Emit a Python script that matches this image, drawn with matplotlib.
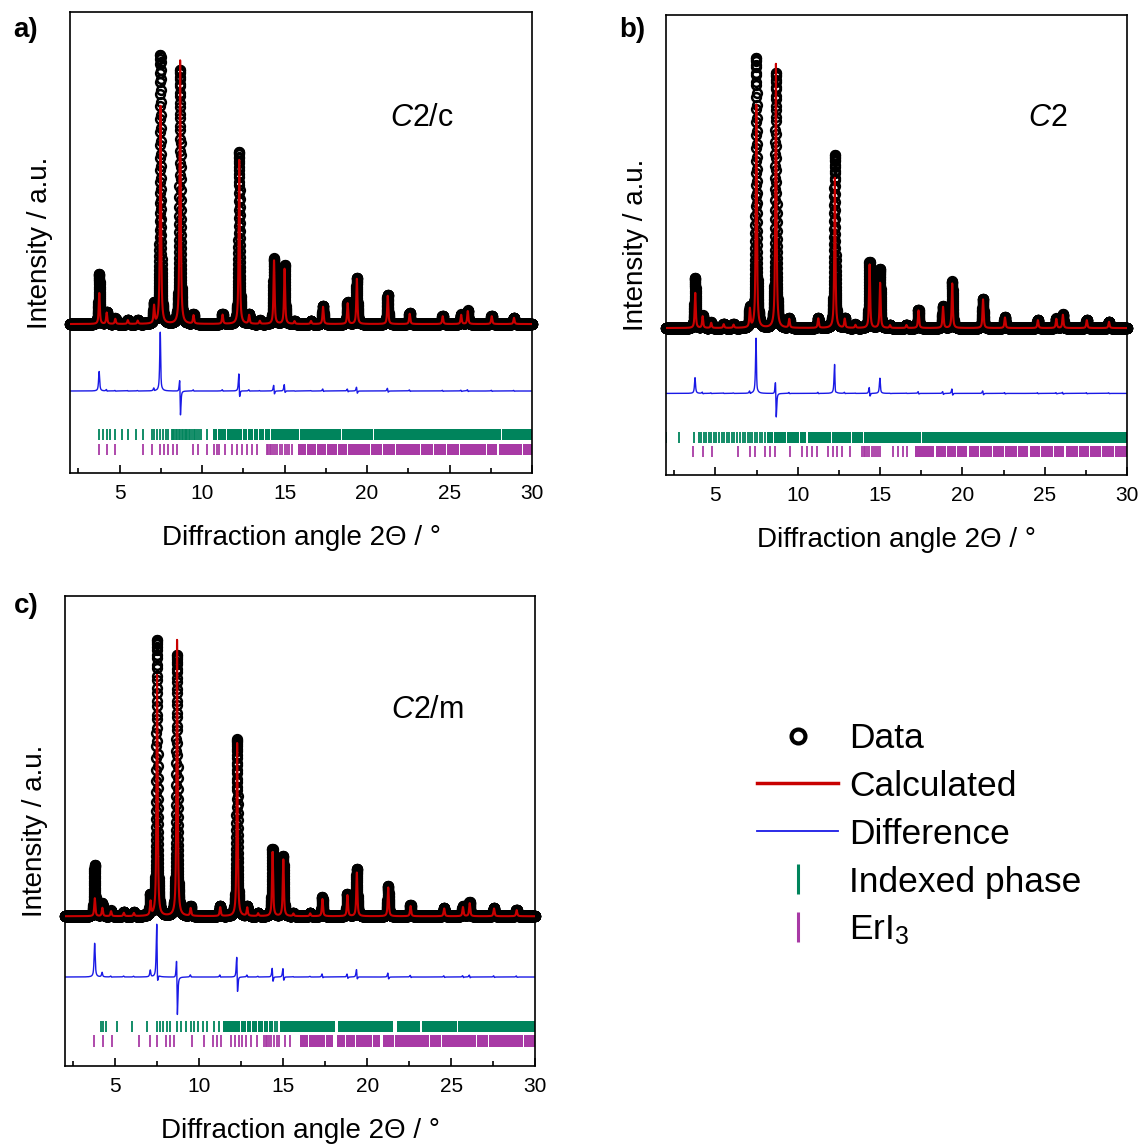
import numpy as np
import matplotlib.pyplot as plt
from matplotlib.lines import Line2D
from matplotlib.ticker import MultipleLocator

plt.rcParams['font.family'] = ['Liberation Sans', 'DejaVu Sans']
plt.rcParams['mathtext.fontset'] = 'custom'
plt.rcParams['mathtext.rm'] = 'Liberation Sans'
plt.rcParams['mathtext.it'] = 'Liberation Sans:italic'

# measured pattern: reflection positions (2theta / deg) and normalised heights
peak_pos = [3.77, 4.22, 4.74, 5.5, 6.1, 7.09, 7.48, 8.67, 9.48, 11.24, 12.25, 12.85, 13.5,
            14.36, 15.0, 15.6, 16.6, 17.33, 18.82, 19.38, 21.25, 22.58, 24.58, 25.7, 26.1,
            27.55, 28.9]
obs_height = [0.185, 0.045, 0.02, 0.015, 0.013, 0.072, 1.0, 0.945, 0.034, 0.037, 0.64, 0.035,
              0.012, 0.243, 0.218, 0.01, 0.012, 0.068, 0.08, 0.172, 0.109, 0.04, 0.03, 0.035,
              0.05, 0.03, 0.024]

# calculated heights for the three space group models
calc_a = [0.115, 0.042, 0.019, 0.014, 0.012, 0.065, 0.81, 0.98, 0.031, 0.034, 0.61, 0.032,
          0.011, 0.236, 0.205, 0.01, 0.011, 0.064, 0.077, 0.168, 0.105, 0.038, 0.029, 0.034,
          0.048, 0.029, 0.023]
calc_b = [0.13, 0.043, 0.019, 0.014, 0.012, 0.068, 0.826, 0.978, 0.032, 0.035, 0.556, 0.033,
          0.011, 0.235, 0.167, 0.01, 0.011, 0.065, 0.078, 0.165, 0.106, 0.039, 0.029, 0.034,
          0.049, 0.029, 0.023]
calc_c = [0.065, 0.03, 0.018, 0.012, 0.011, 0.05, 0.873, 1.0, 0.028, 0.032, 0.627, 0.03,
          0.01, 0.232, 0.205, 0.009, 0.01, 0.062, 0.076, 0.158, 0.104, 0.037, 0.028, 0.033,
          0.047, 0.028, 0.022]
calc_shift = [0.004, 0.004, 0.006]

# reflection markers, single lines and dense bands (start, end)
idx_ticks_a = [3.76, 4.02, 4.22, 4.42, 4.73, 5.13, 5.53, 6.0, 6.44, 6.95, 7.11, 7.25, 7.45,
               7.66, 7.82, 7.96, 8.16, 8.24, 8.33, 8.42, 8.5, 8.6, 8.68, 8.76, 8.85, 8.94,
               9.02, 9.12, 9.2, 9.3, 9.4, 9.5, 9.6, 9.7, 9.82, 9.95, 10.28]
idx_bands_a = [(10.65, 10.9), (10.94, 11.2), (11.24, 11.45), (11.49, 11.8), (11.84, 12.1),
               (12.14, 12.45), (12.49, 12.75), (12.79, 13.1), (13.14, 13.4), (13.44, 13.75),
               (13.79, 14.12), (14.15, 15.9), (15.95, 18.45), (18.49, 20.35), (20.42, 28.12),
               (28.16, 30.0)]
eri_ticks_a = [3.76, 4.22, 4.73, 6.44, 6.95, 7.45, 7.7, 7.96, 8.22, 8.46, 9.47, 9.78, 10.28,
               10.73, 10.89, 11.05, 11.39, 11.8, 12.1, 12.4, 12.71, 13.01, 13.31, 13.92,
               14.02, 14.12, 14.2, 14.3, 14.42, 14.55, 14.7, 14.85, 15.0, 15.15, 15.3, 15.45]
eri_bands_a = [(15.84, 16.3), (16.34, 16.9), (16.94, 17.5), (17.58, 18.2), (18.24, 18.8),
               (18.84, 19.5), (19.54, 20.2), (20.24, 20.9), (20.94, 21.7), (21.74, 22.4),
               (22.44, 23.2), (23.24, 24.0), (24.04, 24.8), (24.84, 25.6), (25.64, 26.4),
               (26.44, 27.2), (27.24, 27.9), (27.98, 28.7), (28.74, 29.4), (29.44, 30.0)]

idx_ticks_b = [2.0, 2.81, 3.72, 4.02, 4.15, 4.3, 4.45, 4.6, 4.75, 4.9, 5.05, 5.2, 5.38, 5.55,
               5.7, 5.85, 6.0, 6.15, 6.32, 6.5, 6.65, 6.8, 6.95, 7.1, 7.25, 7.4, 7.55, 7.7,
               7.85, 8.0]
idx_bands_b = [(8.12, 8.5), (8.54, 8.9), (8.94, 9.3), (9.34, 9.7), (9.74, 10.1), (10.14, 10.5),
               (10.6, 12.02), (12.08, 13.25), (13.3, 13.95), (14.01, 17.5), (17.55, 30.0)]
eri_ticks_b = [3.66, 4.27, 4.77, 6.39, 7.1, 7.41, 8.01, 8.32, 8.62, 9.53, 10.24, 10.55, 10.85,
               11.16, 11.86, 12.13, 12.37, 12.68, 13.18, 13.89, 14.0, 14.1, 14.22, 14.35,
               14.5, 14.62, 14.75, 14.88, 15.0, 15.81, 16.11, 16.42, 16.62]
eri_bands_b = [(17.12, 17.7), (17.74, 18.3), (18.38, 19.0), (19.08, 19.6), (19.68, 20.3),
               (20.38, 21.0), (21.08, 21.8), (21.88, 22.5), (22.58, 23.3), (23.38, 24.0),
               (24.08, 24.7), (24.78, 25.5), (25.58, 26.2), (26.28, 27.0), (27.08, 27.7),
               (27.78, 28.4), (28.48, 29.2), (29.28, 30.0)]

idx_ticks_c = [4.12, 4.28, 4.44, 5.11, 5.97, 6.9, 7.46, 7.66, 7.86, 8.06, 8.25, 8.65, 8.89,
               9.21, 9.49, 9.71, 9.94, 10.2, 10.44, 10.87, 11.19, 14.5, 14.65]
idx_bands_c = [(11.43, 11.75), (11.79, 12.1), (12.14, 12.45), (12.49, 12.8), (12.84, 13.1),
               (13.14, 13.45), (13.49, 13.8), (13.84, 14.1), (14.14, 14.4), (14.8, 18.08),
               (18.28, 21.56), (21.76, 23.15), (23.25, 25.33), (25.43, 30.0)]
eri_ticks_c = [3.75, 4.29, 4.79, 6.43, 7.06, 7.5, 8.0, 8.25, 8.49, 9.58, 10.27, 10.8, 11.03,
               11.27, 11.86, 12.1, 12.34, 12.57, 12.81, 13.11, 13.41, 13.85, 13.95, 14.05,
               14.15, 14.3, 14.45, 14.6, 14.75, 15.1, 15.4]
eri_bands_c = [(15.99, 16.5), (16.54, 17.0), (17.04, 17.5), (17.54, 17.97), (18.18, 18.7),
               (18.74, 19.3), (19.34, 19.8), (19.84, 20.3), (20.34, 20.75), (20.95, 21.6),
               (21.64, 22.3), (22.34, 23.0), (23.04, 23.7), (23.74, 24.4), (24.44, 25.1),
               (25.14, 25.8), (25.84, 26.5), (26.54, 27.2), (27.24, 27.9), (27.94, 28.6),
               (28.64, 29.3), (29.34, 30.0)]

RED = '#c80000'
BLUE = '#1a1ae6'
GREEN = '#00845c'
PURPLE = '#a83aa5'


def profile(x, pos, height, shift=0.0, fwhm=0.08, eta=0.8):
    # pseudo-Voigt sum over the listed reflections
    y = np.zeros_like(x)
    for p, h in zip(pos, height):
        d = x - p - shift
        g = np.exp(-4 * np.log(2) * d ** 2 / fwhm ** 2)
        l = 1 / (1 + 4 * d ** 2 / fwhm ** 2)
        y += h * (eta * l + (1 - eta) * g)
    return y


tt = np.arange(2.0, 30.0001, 0.003)
obs = profile(tt, peak_pos, obs_height)


def draw_panel(ax, calc_h, shift, ylim, diff_off, green_y, purple_y,
               idx_ticks, idx_bands, eri_ticks, eri_bands):
    calc = profile(tt, peak_pos, calc_h, shift)
    ax.plot(tt, obs, 'o', mfc='none', mec='k', ms=6.3, mew=1.8, clip_on=False, zorder=3)
    ax.plot(tt, calc, color=RED, lw=1.5, zorder=4)
    ax.plot(tt, obs - calc + diff_off, color=BLUE, lw=1.0, zorder=2)

    ax.vlines(idx_ticks, green_y[0], green_y[1], color=GREEN, lw=1.3)
    ax.broken_barh([(s, e - s) for s, e in idx_bands], (green_y[0], green_y[1] - green_y[0]),
                   color=GREEN, lw=0)
    ax.vlines(eri_ticks, purple_y[0], purple_y[1], color=PURPLE, lw=1.3)
    ax.broken_barh([(s, e - s) for s, e in eri_bands], (purple_y[0], purple_y[1] - purple_y[0]),
                   color=PURPLE, lw=0)

    ax.set_xlim(2, 30)
    ax.set_ylim(*ylim)
    ax.xaxis.set_major_locator(MultipleLocator(5))
    ax.xaxis.set_minor_locator(MultipleLocator(2.5))
    ax.tick_params(axis='x', which='major', direction='in', length=6, width=1.2,
                   labelsize=15, pad=8)
    ax.tick_params(axis='x', which='minor', direction='in', length=3.5, width=1.2)
    ax.tick_params(axis='y', left=False, labelleft=False)
    for s in ax.spines.values():
        s.set_linewidth(1.2)
    ax.set_xlabel('Diffraction angle 2Θ / °', fontsize=20, labelpad=16)
    ax.set_ylabel('Intensity / a.u.', fontsize=20, labelpad=12)


fig = plt.figure(figsize=(11.42, 11.44), dpi=100)
ax_a = fig.add_axes([0.0613, 0.5865, 0.4046, 0.4030])
ax_b = fig.add_axes([0.5832, 0.5848, 0.4037, 0.4021])
ax_c = fig.add_axes([0.0569, 0.0682, 0.4116, 0.4108])

draw_panel(ax_a, calc_a, calc_shift[0], (-0.554, 1.16), -0.249, (-0.431, -0.390),
           (-0.487, -0.446), idx_ticks_a, idx_bands_a, eri_ticks_a, eri_bands_a)
draw_panel(ax_b, calc_b, calc_shift[1], (-0.544, 1.159), -0.242, (-0.425, -0.384),
           (-0.479, -0.437), idx_ticks_b, idx_bands_b, eri_ticks_b, eri_bands_b)
draw_panel(ax_c, calc_c, calc_shift[2], (-0.542, 1.159), -0.22, (-0.419, -0.379),
           (-0.474, -0.431), idx_ticks_c, idx_bands_c, eri_ticks_c, eri_bands_c)

# space group labels
fig.text(422 / 1142, 1 - 118 / 1144, r'$\mathit{C}$2/c', fontsize=22, ha='center', va='center')
fig.text(1048 / 1142, 1 - 118 / 1144, r'$\mathit{C}$2', fontsize=22, ha='center', va='center')
fig.text(427 / 1142, 1 - 710 / 1144, r'$\mathit{C}$2/m', fontsize=22, ha='center', va='center')

# panel letters
fig.text(26 / 1142, 1 - 30 / 1144, 'a)', fontsize=20, fontweight='bold', ha='center', va='center')
fig.text(632 / 1142, 1 - 30 / 1144, 'b)', fontsize=20, fontweight='bold', ha='center', va='center')
fig.text(26 / 1142, 1 - 606 / 1144, 'c)', fontsize=20, fontweight='bold', ha='center', va='center')

handles = [
    Line2D([], [], ls='none', marker='o', mfc='none', mec='k', ms=10, mew=3),
    Line2D([], [], color=RED, lw=2.5),
    Line2D([], [], color=BLUE, lw=1.3),
    Line2D([], [], ls='none', marker='|', color=GREEN, ms=22, mew=2.2),
    Line2D([], [], ls='none', marker='|', color=PURPLE, ms=22, mew=2.2),
]
labels = ['Data', 'Calculated', 'Difference', 'Indexed phase', 'ErI$_3$']
fig.legend(handles, labels, loc='upper left', bbox_to_anchor=(757 / 1142, 1 - 722 / 1144),
           frameon=False, fontsize=25.5, handlelength=2.3, handletextpad=0.3,
           borderpad=0, borderaxespad=0, labelspacing=0.42)

fig.savefig('out.png', dpi=100)
